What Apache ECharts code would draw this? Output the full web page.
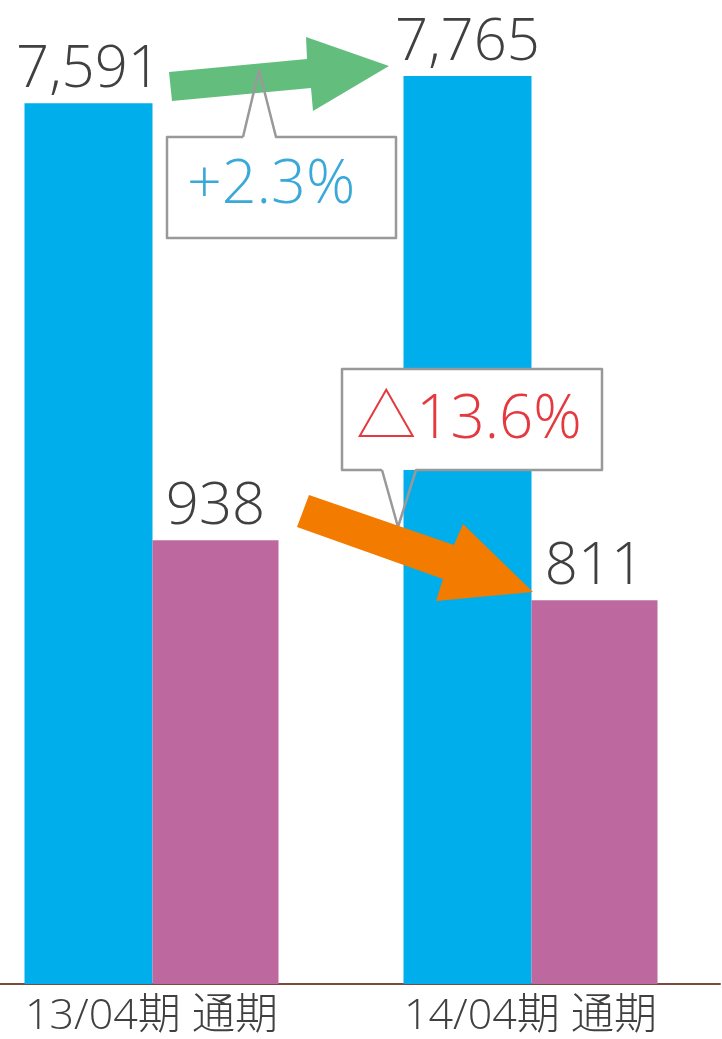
<!DOCTYPE html>
<html>
<head>
<meta charset="utf-8">
<script src="https://cdn.jsdelivr.net/npm/echarts@6/dist/echarts.min.js"></script>
<style>
  html, body { margin: 0; padding: 0; background: #fff; }
  #chart { width: 722px; height: 1039px; }
</style>
</head>
<body>
<div id="chart"></div>
<script>
const categories = ['13/04期 通期', '14/04期 通期']
const salesValues = [7591, 7765]
const profitValues = [938, 811]
const changeLabels = ['+2.3%', '△13.6%']

const FONT = "'Open Sans', 'Noto Sans CJK JP', sans-serif"
const TEXT_COLOR = '#404040'

function fmt(v) {
  return String(v).replace(/\B(?=(\d{3})+(?!\d))/g, ',')
}

let valueLabel = {
  show: true,
  position: 'top',
  distance: 4,
  fontSize: 58,
  fontFamily: FONT,
  fontWeight: 300,
  color: TEXT_COLOR,
  formatter: function (p) {
    return fmt(p.value)
  },
}

let myChart = echarts.init(document.getElementById('chart'))
myChart.setOption({
  animation: false,
  backgroundColor: '#fff',
  grid: {
    left: -38,
    right: 2,
    top: 0,
    bottom: 55,
    outerBoundsMode: 'none',
    containLabel: false,
  },
  xAxis: {
    type: 'category',
    data: categories,
    axisTick: { show: false },
    axisLine: { lineStyle: { color: '#7B4A3A', width: 2 } },
    axisLabel: {
      fontSize: 43,
      fontFamily: FONT,
      fontWeight: 300,
      color: TEXT_COLOR,
      margin: 11,
    },
  },
  // two hidden value axes (the chart uses a broken scale for the big bars)
  yAxis: [
    { type: 'value', min: 1920, max: 8255, show: false },
    { type: 'value', min: 0, max: 2080, show: false },
  ],
  series: [
    {
      type: 'bar',
      data: salesValues,
      yAxisIndex: 0,
      barWidth: 128,
      barGap: '0%',
      itemStyle: { color: '#00AEEB' },
      label: valueLabel,
    },
    {
      type: 'bar',
      data: profitValues,
      yAxisIndex: 1,
      barWidth: 126,
      barGap: '0%',
      itemStyle: { color: '#BD69A0' },
      label: valueLabel,
    },
  ],
  graphic: {
    elements: [
      // callout boxes (white fill)
      { type: 'rect', z: 10, shape: { x: 167, y: 137, width: 229, height: 101, r: 3 }, style: { fill: '#fff' } },
      { type: 'rect', z: 10, shape: { x: 342, y: 369, width: 260, height: 101, r: 3 }, style: { fill: '#fff' } },
      // box 2 outline sits below the orange arrow
      {
        type: 'polyline', z: 15,
        shape: { points: [[382, 470], [398, 527], [416, 470], [602, 470], [602, 369], [342, 369], [342, 470], [382, 470]] },
        style: { stroke: '#999', lineWidth: 2.5, fill: null, lineJoin: 'round' },
      },
      // green arrow
      {
        type: 'polygon', z: 20,
        shape: { points: [[169, 72], [307, 59], [306, 37], [389, 66], [313, 111], [311, 88], [172, 101]] },
        style: { fill: '#63BE7E' },
      },
      // orange arrow
      {
        type: 'polygon', z: 20,
        shape: { points: [[309, 495], [454, 545], [463, 524], [533, 592], [436, 601], [443, 579], [297, 527]] },
        style: { fill: '#F27B00' },
      },
      // box 1 outline is drawn over the green arrow
      {
        type: 'polyline', z: 30,
        shape: { points: [[243, 137], [259, 70], [276, 137], [396, 137], [396, 238], [167, 238], [167, 137], [243, 137]] },
        style: { stroke: '#999', lineWidth: 2.5, fill: null, lineJoin: 'round' },
      },
      {
        type: 'text', z: 31,
        style: {
          text: changeLabels[0], x: 271, y: 186,
          fontSize: 61, fontFamily: FONT, fontWeight: 300, fill: '#3AA9D9',
          align: 'center', verticalAlign: 'middle', textAlign: 'center', textVerticalAlign: 'middle',
        },
      },
      {
        type: 'text', z: 31,
        style: {
          text: changeLabels[1], x: 469, y: 421,
          fontSize: 60, fontFamily: FONT, fontWeight: 300, fill: '#E4393F',
          align: 'center', verticalAlign: 'middle', textAlign: 'center', textVerticalAlign: 'middle',
        },
      },
    ],
  },
})
</script>
</body>
</html>
